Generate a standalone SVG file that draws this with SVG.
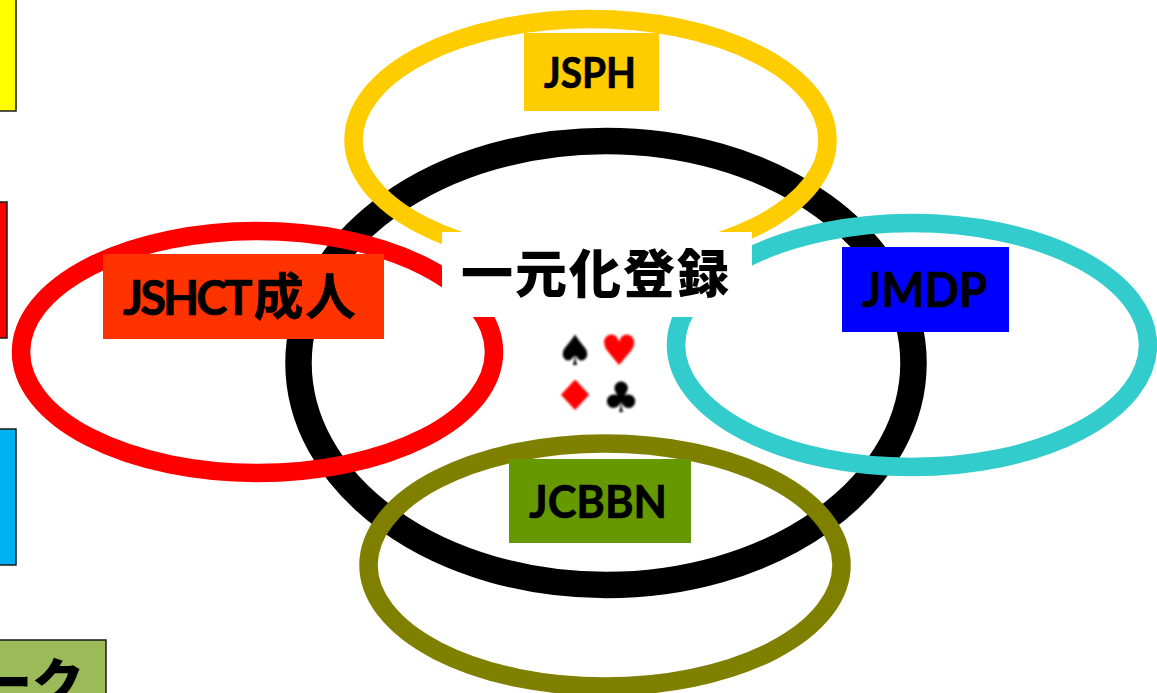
<svg xmlns="http://www.w3.org/2000/svg" width="1157" height="693" viewBox="0 0 1157 693">
<defs><filter id="soft" x="-10%" y="-10%" width="120%" height="120%"><feGaussianBlur stdDeviation="0.8"/></filter></defs>
<style>
.ring{fill:none;stroke-width:18.5}
.lbl{font-family:"Lato","Noto Sans CJK JP",sans-serif;font-weight:700;fill:#000;stroke:#000;stroke-width:0.7}
.side{stroke:#1a1a1a;stroke-width:1.5}
.suit{font-family:"DejaVu Sans",sans-serif;font-size:42px;text-anchor:middle}
</style>
<rect width="1157" height="693" fill="#fff"/>
<g id="side-boxes">
<rect class="side" x="-10" y="-10" width="26" height="121" fill="#ffff00"/>
<rect class="side" x="-10" y="202" width="17" height="136" fill="#ff0000"/>
<rect class="side" x="-10" y="429" width="26" height="136" fill="#00b0f0"/>
<rect class="side" x="-10" y="640" width="116" height="70" fill="#9bbb59"/>
<text x="84" y="702" text-anchor="end" style="font-family:'Noto Sans CJK JP',sans-serif;font-weight:900;font-size:52px">ーク</text>
</g>
<g id="connectors">
<ellipse id="ring-main" class="ring" cx="606" cy="363" rx="307.500" ry="222" stroke="#000" style="stroke-width:26.500"/>
<ellipse id="ring-jsph" class="ring" cx="590.500" cy="140" rx="237" ry="121" stroke="#ffcc00"/>
<ellipse id="ring-jshct" class="ring" cx="257.500" cy="352" rx="236.500" ry="121" stroke="#ff0000"/>
<ellipse id="ring-jmdp" class="ring" cx="912" cy="345" rx="236" ry="122" stroke="#33cccc"/>
<ellipse id="ring-jcbbn" class="ring" cx="605" cy="565" rx="236.500" ry="121.500" stroke="#808000"/>
</g>
<g id="node-center">
<rect x="442" y="232" width="310" height="85" fill="#fff"/>
<text x="461" y="293" letter-spacing="2" style="font-family:'Noto Sans CJK JP',sans-serif;font-weight:900;font-size:52px">一元化登録</text>
</g>
<g id="node-suits" filter="url(#soft)">
<text class="suit" x="575" y="365" fill="#000">♠</text>
<text class="suit" x="619" y="365" fill="#f00">♥</text>
<text class="suit" x="575" y="410" fill="#f00" transform="translate(575,0) scale(1.2,1) translate(-575,0)">♦</text>
<text class="suit" x="621" y="412" fill="#000">♣</text>
</g>
<g id="node-jsph">
<rect x="524" y="33" width="135" height="78" fill="#ffcc00"/>
<text class="lbl" x="544" y="88" font-size="42" textLength="92" lengthAdjust="spacingAndGlyphs">JSPH</text>
</g>
<g id="node-jshct">
<rect x="103" y="254" width="281" height="85" fill="#ff3300"/>
<text class="lbl" x="123" y="315" font-size="47"><tspan letter-spacing="-3">JSHCT</tspan><tspan font-size="50" dx="4" letter-spacing="2">成人</tspan></text>
</g>
<g id="node-jmdp">
<rect x="842" y="247" width="167" height="85" fill="#0000ff"/>
<text class="lbl" x="862" y="307" font-size="47" textLength="125" lengthAdjust="spacingAndGlyphs">JMDP</text>
</g>
<g id="node-jcbbn">
<rect x="509" y="459" width="182" height="84" fill="#669900"/>
<text class="lbl" x="529" y="518" font-size="46" textLength="138" lengthAdjust="spacingAndGlyphs">JCBBN</text>
</g>
</svg>
